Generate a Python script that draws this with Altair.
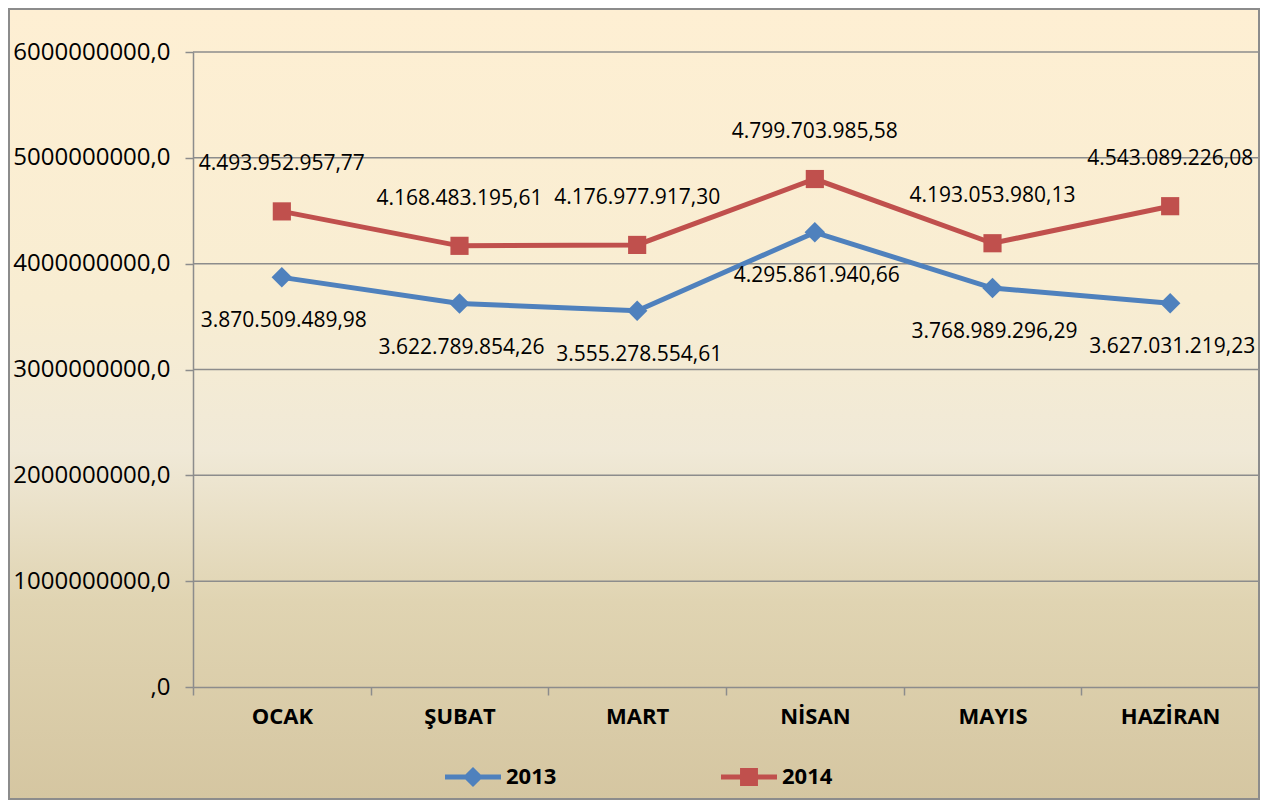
import altair as alt
import pandas as pd

months = ["OCAK", "ŞUBAT", "MART", "NİSAN", "MAYIS", "HAZİRAN"]
values_2013 = [3870509489.98, 3622789854.26, 3555278554.61, 4295861940.66, 3768989296.29, 3627031219.23]
values_2014 = [4493952957.77, 4168483195.61, 4176977917.30, 4799703985.58, 4193053980.13, 4543089226.08]
series_names = ["2013", "2014"]
series_colors = ["#4F81BD", "#C0504D"]
y_ticks = [0, 1e9, 2e9, 3e9, 4e9, 5e9, 6e9]


def tr_fmt(v):
    s = f"{v:,.2f}"
    return s.replace(",", "X").replace(".", ",").replace("X", ".")


rows = []
for name, vals in zip(series_names, [values_2013, values_2014]):
    for m, v in zip(months, vals):
        rows.append({"month": m, "series": name, "value": v, "label": tr_fmt(v)})
df = pd.DataFrame(rows)
grid_df = pd.DataFrame({"value": y_ticks[1:]})

W, H = 1066, 635
PAD_L, PAD_T, PAD_R, PAD_B = 185, 44, 1, 113
GRID = "#8C8C8C"
FONT = "Open Sans"

x_enc = alt.X(
    "month:N", sort=months, bandPosition=0.5,
    scale=alt.Scale(type="band", paddingInner=0, paddingOuter=0),
    axis=alt.Axis(title=None, tickBand="extent", labelAngle=0, labelFont=FONT,
                  labelFontSize=22, labelFontWeight="bold", labelColor="black",
                  labelPadding=11, tickSize=8, tickColor=GRID, tickWidth=1.5,
                  domainColor=GRID, domainWidth=1.5, grid=False, zindex=2),
)
y_scale = alt.Scale(domain=[0, 6e9], nice=False, zero=True)
y_enc = alt.Y(
    "value:Q", scale=y_scale,
    axis=alt.Axis(title=None, values=y_ticks,
                  labelExpr="datum.value == 0 ? ',0' : format(datum.value, 'd') + ',0'",
                  grid=False, tickSize=8, tickColor=GRID,
                  tickWidth=1.5, domainColor=GRID, domainWidth=1.5, labelPadding=15,
                  labelFont=FONT, labelFontSize=24, labelColor="black", zindex=2),
)

gradient = alt.LinearGradient(
    gradient="linear",
    stops=[
        alt.GradientStop(color="#FEEFD3", offset=0),
        alt.GradientStop(color="#F8EDD2", offset=0.37),
        alt.GradientStop(color="#F0E9D7", offset=0.56),
        alt.GradientStop(color="#E0D4B2", offset=0.75),
        alt.GradientStop(color="#D5C6A1", offset=1),
    ],
    x1=0, x2=0, y1=0, y2=1,
)

bg = alt.Chart(pd.DataFrame({"a": [0]})).mark_rect(
    fill=gradient, stroke=GRID, strokeWidth=2
).encode(
    x=alt.value(-PAD_L + 1), x2=alt.value(W + PAD_R - 1),
    y=alt.value(-PAD_T + 1), y2=alt.value(H + PAD_B - 1),
)

gridlines = alt.Chart(grid_df).mark_rule(color=GRID, strokeWidth=1.5).encode(
    y=y_enc, x=alt.value(0), x2=alt.value(W),
)

layers = [bg, gridlines]
for name, color in zip(series_names, series_colors):
    layers.append(
        alt.Chart(df).transform_filter(alt.datum.series == name)
        .mark_line(color=color, strokeWidth=5)
        .encode(x=x_enc, y=y_enc)
    )

point_shapes = {"2013": ("diamond", 420), "2014": ("square", 330)}
for name, color in zip(series_names, series_colors):
    shp, sz = point_shapes[name]
    layers.append(
        alt.Chart(df).transform_filter(alt.datum.series == name)
        .mark_point(shape=shp, size=sz, filled=True, color=color, opacity=1)
        .encode(x=x_enc, y=y_enc)
    )

label_offsets = {"2013": (2, 44), "2014": (0, -47)}
for name in series_names:
    dx, dy = label_offsets[name]
    layers.append(
        alt.Chart(df).transform_filter(alt.datum.series == name)
        .mark_text(dx=dx, dy=dy, font=FONT, fontSize=21, color="black")
        .encode(x=x_enc, y=y_enc, text="label:N")
    )

diamond_path = ("M-1,-0.09 L-0.27,-0.09 L0,-0.36 L0.27,-0.09 L1,-0.09 L1,0.09 "
                "L0.27,0.09 L0,0.36 L-0.27,0.09 L-1,0.09 Z")
square_path = ("M-1,-0.09 L-0.32,-0.09 L-0.32,-0.32 L0.32,-0.32 L0.32,-0.09 L1,-0.09 "
               "L1,0.09 L0.32,0.09 L0.32,0.32 L-0.32,0.32 L-0.32,0.09 L-1,0.09 Z")

legend_kw = dict(title=None, orient="none", legendX=252, legendY=697,
                 direction="horizontal", symbolSize=3136, symbolOpacity=1,
                 symbolStrokeWidth=0, labelFont=FONT, labelFontSize=22,
                 labelFontWeight="bold", labelColor="black", labelOffset=5,
                 columnPadding=164, padding=0)

legend_layer = alt.Chart(df).mark_point(filled=True, opacity=0).encode(
    x=x_enc, y=y_enc,
    color=alt.Color("series:N", scale=alt.Scale(domain=series_names, range=series_colors),
                    legend=alt.Legend(**legend_kw)),
    shape=alt.Shape("series:N", scale=alt.Scale(domain=series_names, range=[diamond_path, square_path]),
                    legend=alt.Legend(**legend_kw)),
)
layers.append(legend_layer)

chart = alt.layer(*layers).properties(
    width=W, height=H,
    padding={"left": PAD_L, "top": PAD_T, "right": PAD_R, "bottom": PAD_B},
    autosize=alt.AutoSizeParams(type="none"),
).configure_view(stroke=None).configure(background="white")

chart.save("out.html", embed_options={"renderer": "svg", "actions": False})
